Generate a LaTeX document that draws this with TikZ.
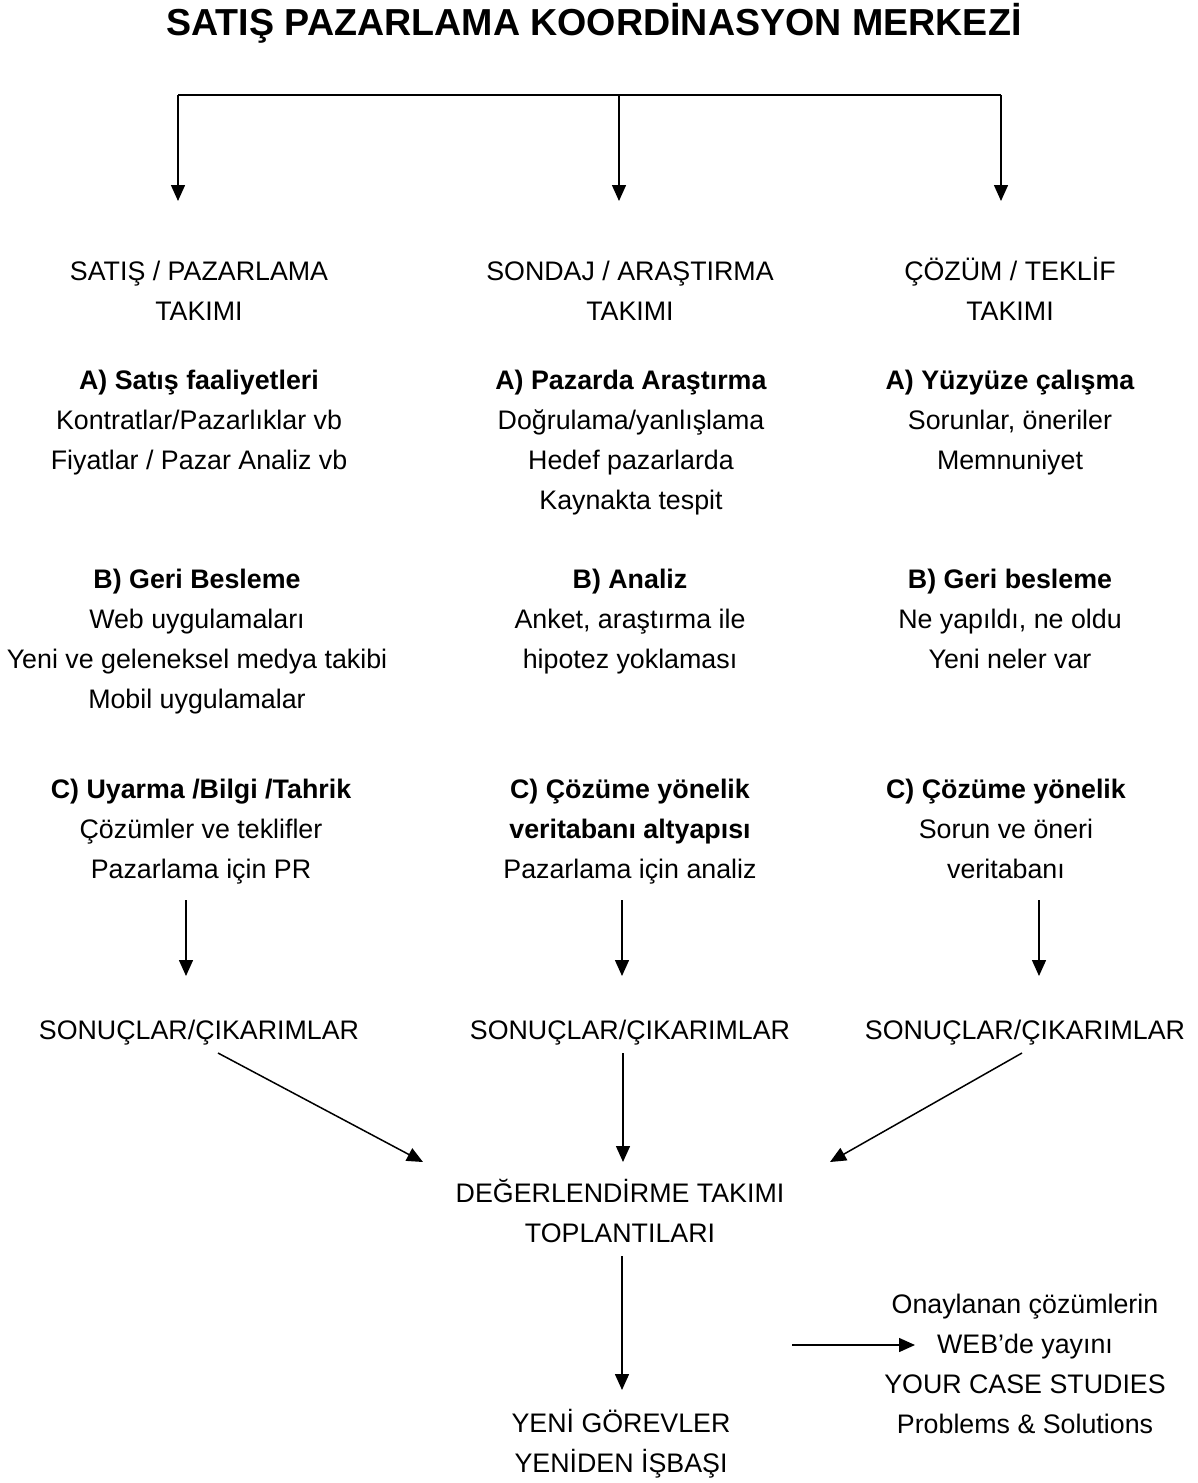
\documentclass[tikz,border=0pt]{standalone}
\usepackage{fontspec}
\setmainfont{Liberation Sans}
\usetikzlibrary{arrows.meta}
\begin{document}
\begin{tikzpicture}[x=1pt,y=-1pt,
  txt/.style={font=\fontsize{26.8}{40}\selectfont, align=center, anchor=base, inner sep=0pt},
  arr/.style={line width=1.5pt, -{Triangle[length=16pt,width=14pt]}},
  ln/.style={line width=1.5pt}]
\useasboundingbox (0,0) rectangle (1197,1483);
\node[font=\bfseries\fontsize{37.6}{45}\selectfont, anchor=base, inner sep=0pt] (title) at (594,35.5) {SATIŞ PAZARLAMA KOORDİNASYON MERKEZİ};

% team headers (anchor = baseline of last line)
\node[txt] (t1) at (199,320) {SATIŞ / PAZARLAMA\\TAKIMI};
\node[txt] (t2) at (630,320) {SONDAJ / ARAŞTIRMA\\TAKIMI};
\node[txt] (t3) at (1010,320) {ÇÖZÜM / TEKLİF\\TAKIMI};

% A blocks
\node[txt] (a1) at (199,469) {\textbf{A) Satış faaliyetleri}\\Kontratlar/Pazarlıklar vb\\Fiyatlar / Pazar Analiz vb};
\node[txt] (a2) at (631,509) {\textbf{A) Pazarda Araştırma}\\Doğrulama/yanlışlama\\Hedef pazarlarda\\Kaynakta tespit};
\node[txt] (a3) at (1010,469) {\textbf{A) Yüzyüze çalışma}\\Sorunlar, öneriler\\Memnuniyet};

% B blocks
\node[txt] (b1) at (197,708) {\textbf{B) Geri Besleme}\\Web uygulamaları\\Yeni ve geleneksel medya takibi\\Mobil uygulamalar};
\node[txt] (b2) at (630,668) {\textbf{B) Analiz}\\Anket, araştırma ile\\hipotez yoklaması};
\node[txt] (b3) at (1010,668) {\textbf{B) Geri besleme}\\Ne yapıldı, ne oldu\\Yeni neler var};

% C blocks
\node[txt] (c1) at (201,878) {\textbf{C) Uyarma /Bilgi /Tahrik}\\Çözümler ve teklifler\\Pazarlama için PR};
\node[txt] (c2) at (630,878) {\textbf{C) Çözüme yönelik}\\\textbf{veritabanı altyapısı}\\Pazarlama için analiz};
\node[txt] (c3) at (1006,878) {\textbf{C) Çözüme yönelik}\\Sorun ve öneri\\veritabanı};

% results
\node[txt] (s1) at (199,1039) {SONUÇLAR/ÇIKARIMLAR};
\node[txt] (s2) at (630,1039) {SONUÇLAR/ÇIKARIMLAR};
\node[txt] (s3) at (1025,1039) {SONUÇLAR/ÇIKARIMLAR};

% evaluation
\node[txt] (d) at (620,1242) {DEĞERLENDİRME TAKIMI\\TOPLANTILARI};
\node[txt] (y) at (621,1472) {YENİ GÖREVLER\\YENİDEN İŞBAŞI};
\node[txt] (w) at (1025,1433) {Onaylanan çözümlerin\\WEB’de yayını\\YOUR CASE STUDIES\\Problems \& Solutions};

% top bracket
\coordinate (bL) at (178,95);
\coordinate (bM) at (619,95);
\coordinate (bR) at (1001,95);
\coordinate (tL) at (178,201);
\coordinate (tM) at (619,201);
\coordinate (tR) at (1001,201);
\draw[ln] (bL) -- (bR);
\draw[arr] (bL) -- (tL);
\draw[arr] (bM) -- (tM);
\draw[arr] (bR) -- (tR);

% C -> results
\coordinate (c1s) at (186,900);  \coordinate (c1e) at (186,976);
\coordinate (c2s) at (622,900);  \coordinate (c2e) at (622,976);
\coordinate (c3s) at (1039,900); \coordinate (c3e) at (1039,976);
\draw[arr] (c1s) -- (c1e);
\draw[arr] (c2s) -- (c2e);
\draw[arr] (c3s) -- (c3e);

% results -> evaluation
\coordinate (s1s) at (218,1053);  \coordinate (d1) at (423,1162);
\coordinate (s2s) at (623,1053);  \coordinate (d2) at (623,1162);
\coordinate (s3s) at (1022,1053); \coordinate (d3) at (830,1162);
\draw[arr] (s1s) -- (d1);
\draw[arr] (s2s) -- (d2);
\draw[arr] (s3s) -- (d3);

% evaluation -> new tasks
\coordinate (ds) at (622,1256); \coordinate (ye) at (622,1390);
\draw[arr] (ds) -- (ye);

% -> web publication
\coordinate (ws) at (792,1345); \coordinate (we) at (915,1345);
\draw[arr] (ws) -- (we);
\end{tikzpicture}
\end{document}
